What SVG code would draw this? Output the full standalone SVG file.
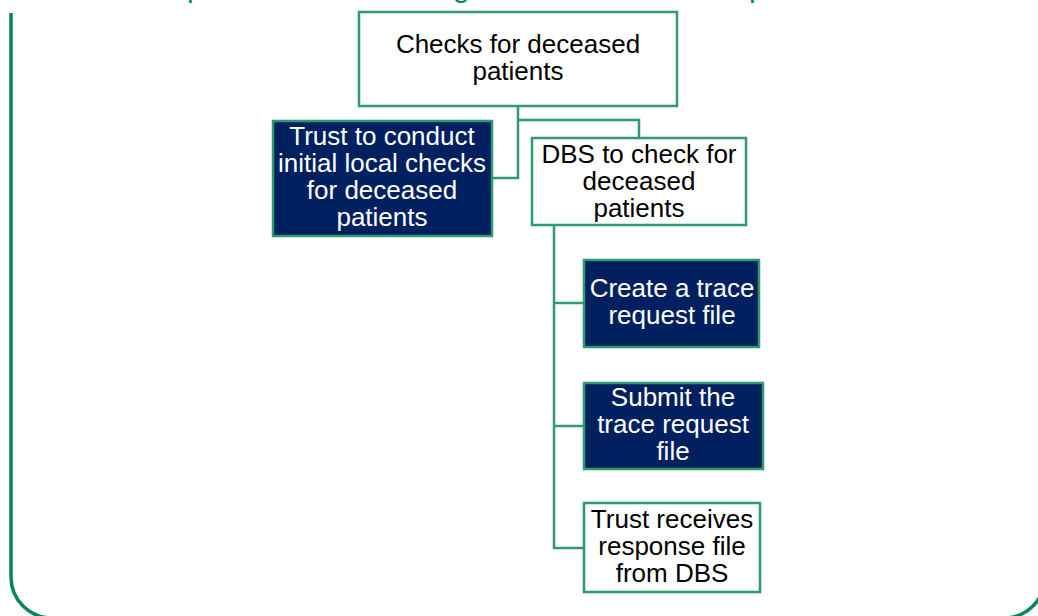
<svg xmlns="http://www.w3.org/2000/svg" width="1038" height="616" viewBox="0 0 1038 616">
<style>
.box{stroke:#2e9a6f;stroke-width:2.5}
.light{fill:#ffffff}
.dark{fill:#002060}
.t{font-family:"Liberation Sans",Arial,sans-serif;font-size:26px;text-anchor:middle}
.tl{fill:#000000}
.td{fill:#ffffff}
.conn{fill:none;stroke:#2e9a6f;stroke-width:2.5}
.title{font-family:"Liberation Sans",Arial,sans-serif;font-size:30px;fill:#00875a}
</style>
<rect width="1038" height="616" fill="#ffffff"/>
<g id="frame">
<path d="M11,13 V577 A41,41 0 0 0 52,618 H1004 A41,41 0 0 0 1045,577 V13" fill="none" stroke="#00845a" stroke-width="3.5"/>
<text class="title" x="187" y="-3">p</text>
<text class="title" x="453" y="-3">g</text>
<text class="title" x="749" y="-3">p</text>
</g>
<g id="connectors">
<path class="conn" d="M518,106 V178 H492"/>
<path class="conn" d="M518,120 H639 V138"/>
<path class="conn" d="M554,225 V548 H584"/>
<path class="conn" d="M554,303 H584"/>
<path class="conn" d="M554,426 H584"/>
</g>
<g id="node-checks">
<rect class="box light" x="359" y="12" width="318" height="94"/>
<text class="t tl" x="518" y="53">Checks for deceased</text>
<text class="t tl" x="518" y="80">patients</text>
</g>
<g id="node-trust-local">
<rect class="box dark" x="273" y="121" width="219" height="115"/>
<text class="t td" x="382" y="145">Trust to conduct</text>
<text class="t td" x="382" y="172">initial local checks</text>
<text class="t td" x="382" y="199">for deceased</text>
<text class="t td" x="382" y="226">patients</text>
</g>
<g id="node-dbs">
<rect class="box light" x="532" y="138" width="214" height="87"/>
<text class="t tl" x="639" y="163">DBS to check for</text>
<text class="t tl" x="639" y="190">deceased</text>
<text class="t tl" x="639" y="217">patients</text>
</g>
<g id="node-create">
<rect class="box dark" x="584" y="260" width="175" height="87"/>
<text class="t td" x="672" y="297">Create a trace</text>
<text class="t td" x="672" y="324">request file</text>
</g>
<g id="node-submit">
<rect class="box dark" x="584" y="383" width="179" height="86"/>
<text class="t td" x="673" y="406">Submit the</text>
<text class="t td" x="673" y="433">trace request</text>
<text class="t td" x="673" y="460">file</text>
</g>
<g id="node-receives">
<rect class="box light" x="584" y="503" width="176" height="89"/>
<text class="t tl" x="672" y="528">Trust receives</text>
<text class="t tl" x="672" y="555">response file</text>
<text class="t tl" x="672" y="582">from DBS</text>
</g>
</svg>
